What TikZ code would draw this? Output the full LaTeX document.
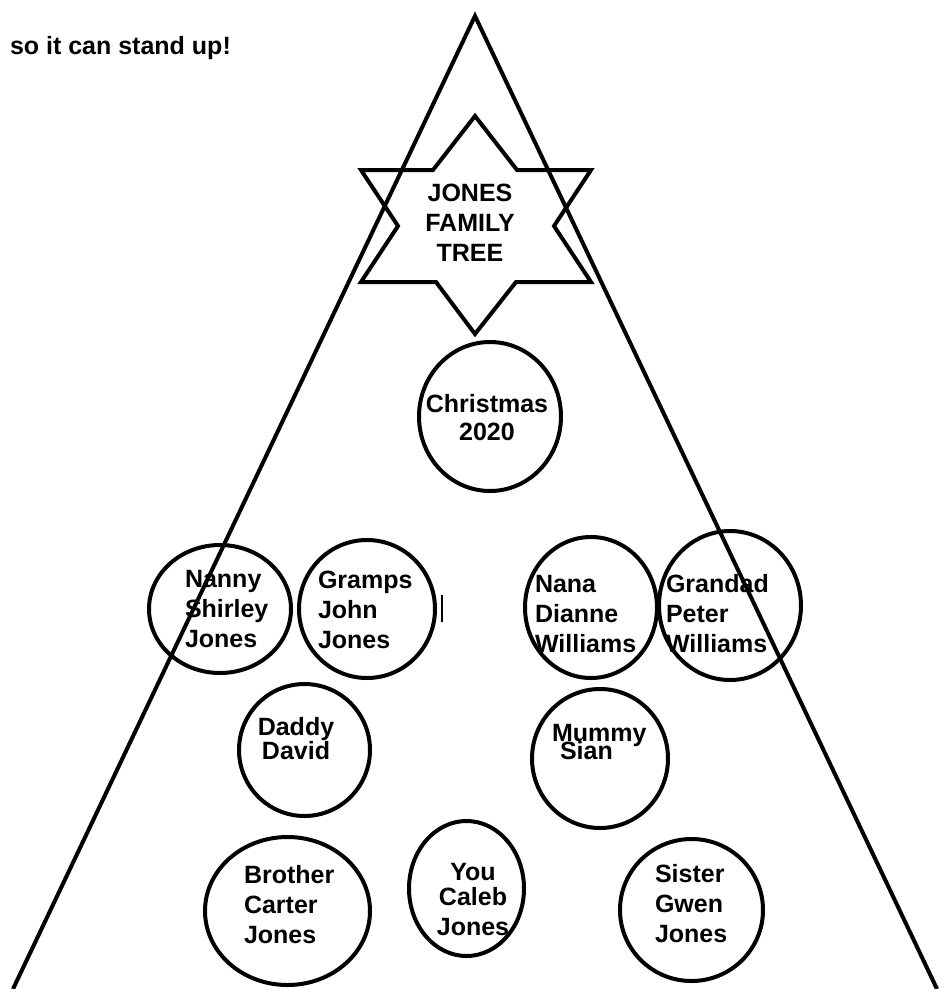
\documentclass[tikz,border=0pt]{standalone}
\usepackage{fontspec}
\setmainfont{Liberation Sans}
\newcommand{\bauble}[4]{\draw (#1,#2) ellipse ({#3} and {#4});}
\tikzset{word/.style={font=\bfseries\fontsize{25}{30}\selectfont, inner sep=0pt, anchor=base west, align=left}}

\begin{document}
\begin{tikzpicture}[x=1pt,y=-1pt,line width=4pt]
\useasboundingbox (0,0) rectangle (948,989);
%\draw[help lines,step=50](0,0)grid(948,989);
\draw (13,989)--(475,16)--(937,989);
\draw (475,116)--(517,170)--(591,170)--(554,226)--(591,282)--(516,282)--(475,334)--(436,282)--(361,282)--(398,226)--(361,170)--(433,170)--cycle;
\bauble{490}{416.5}{71}{74.5}
\bauble{220}{609}{71}{64}
\bauble{367}{609}{68}{69}
\bauble{591}{607.5}{66}{70.5}
\bauble{730}{605.5}{71}{74.5}
\bauble{304.5}{750}{65.5}{66}
\bauble{600}{758.5}{68}{69.5}
\bauble{287.5}{911}{82.5}{74}
\bauble{466.5}{888.5}{57.5}{67.5}
\bauble{691.5}{910}{71.5}{71}
\draw[line width=2.5pt] (442,595)--(442,622);
% base of a node of several lines = its last line
\node[word] (stand) at (8,54) {so it can stand up!};
\node[word,anchor=base,align=center] (title) at (470,261) {JONES\\FAMILY\\TREE};
\node[word,anchor=base,align=center] (xmas) at (487,440) {Christmas\\[-2pt]2020};
\node[word] (nanny) at (183,647) {Nanny\\Shirley\\Jones};
\node[word] (gramps) at (316,648) {Gramps\\John\\Jones};
\node[word] (nana) at (533,652) {Nana\\Dianne\\Williams};
\node[word] (grandad) at (664,652) {Grandad\\Peter\\Williams};
\node[word,anchor=base,align=center] (daddy) at (296,759) {Daddy\\[-6pt]David};
\node[word] (mummy) at (550,741) {Mummy};
\node[word] (sian) at (558,759) {Sian};
\node[word] (brother) at (242,943) {Brother\\Carter\\Jones};
\node[word,anchor=base,align=center] (you) at (473,935) {You\\[-5pt]Caleb\\Jones};
\node[word] (sister) at (653,942) {Sister\\Gwen\\Jones};
\end{tikzpicture}
\end{document}
